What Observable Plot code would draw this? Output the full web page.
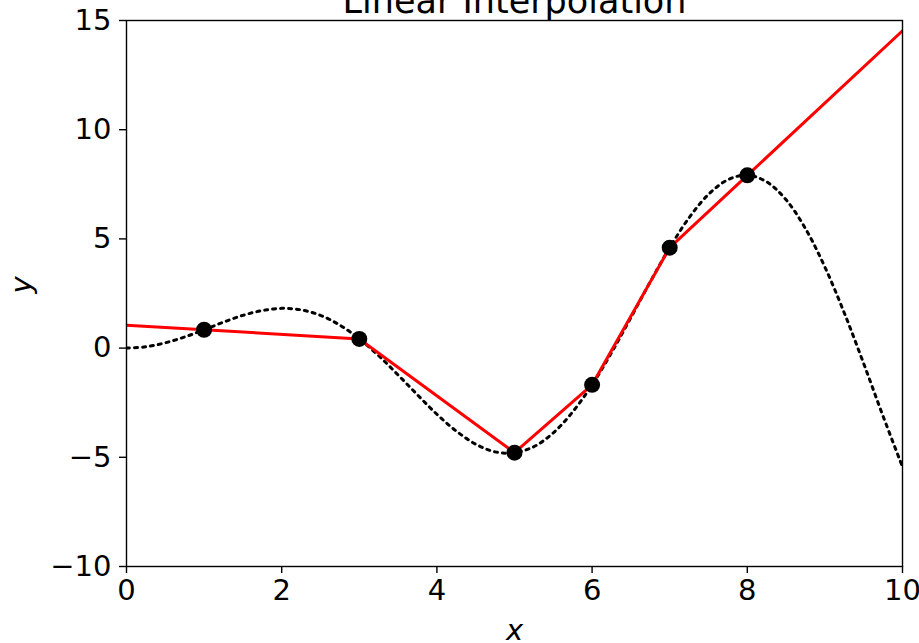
<!DOCTYPE html>
<html>
<head>
<meta charset="utf-8">
<script src="https://cdn.jsdelivr.net/npm/d3@7"></script>
<script src="https://cdn.jsdelivr.net/npm/@observablehq/plot@0.6"></script>
<style>
  body { margin: 0; background: #fff; }
  svg { font-family: "DejaVu Sans", sans-serif; }
</style>
</head>
<body>
<div id="chart"></div>
<script>
// Sample points (black dots)
const sampleX = [1, 3, 5, 6, 7, 8];
const sampleY = [0.84, 0.42, -4.79, -1.68, 4.60, 7.91];

// Linear interpolation (red), extended to the plot edges
const interpX = [0, 1, 3, 5, 6, 7, 8, 10];
const interpY = [1.05, 0.84, 0.42, -4.79, -1.68, 4.60, 7.91, 14.53];

// Underlying curve (dotted)
const curveX = [0, 0.25, 0.5, 0.75, 1, 1.25, 1.5, 1.75, 2, 2.25, 2.5, 2.75, 3, 3.25, 3.5, 3.75, 4, 4.25, 4.5, 4.75, 5,
  5.25, 5.5, 5.75, 6, 6.25, 6.5, 6.75, 7, 7.25, 7.5, 7.75, 8, 8.25, 8.5, 8.75, 9, 9.25, 9.5, 9.75, 10];
const curveY = [0, 0.06, 0.24, 0.51, 0.84, 1.19, 1.50, 1.72, 1.82, 1.75, 1.50, 1.05, 0.42, -0.35, -1.23, -2.14, -3.03,
  -3.80, -4.40, -4.75, -4.79, -4.51, -3.88, -2.92, -1.68, -0.21, 1.40, 3.04, 4.60, 5.97, 7.04, 7.71, 7.92, 7.61, 6.79,
  5.47, 3.71, 1.61, -0.71, -3.12, -5.44];

const xTicks = [0, 2, 4, 6, 8, 10];
const yTicks = [-10, -5, 0, 5, 10, 15];

const samples = sampleX.map((x, i) => ({x, y: sampleY[i]}));
const interp = interpX.map((x, i) => ({x, y: interpY[i]}));
const curve = curveX.map((x, i) => ({x, y: curveY[i]}));

const fs = 29;
const chart = Plot.plot({
  width: 919,
  height: 643,
  marginLeft: 126,
  marginRight: 17,
  marginTop: 20,
  marginBottom: 77,
  style: {fontFamily: "DejaVu Sans, sans-serif", background: "#fff", color: "#000"},
  x: {domain: [0, 10]},
  y: {domain: [-10, 15]},
  marks: [
    Plot.line(curve, {x: "x", y: "y", curve: "catmull-rom", stroke: "#000", strokeWidth: 3, strokeDasharray: "3,5", clip: true}),
    Plot.line(interp, {x: "x", y: "y", stroke: "#ff0000", strokeWidth: 3, clip: true}),
    Plot.dot(samples, {x: "x", y: "y", r: 8, fill: "#000", stroke: "none"}),
    Plot.frame({stroke: "#000", strokeWidth: 1.4}),
    Plot.axisX({ticks: xTicks, tickSize: 7, tickPadding: 6, strokeWidth: 1.4, fontSize: fs, label: null, tickFormat: d => d.toString()}),
    Plot.axisY({ticks: yTicks, tickSize: 7, tickPadding: 8, strokeWidth: 1.4, fontSize: fs, label: null, tickFormat: d => d < 0 ? "\u2212" + Math.abs(d) : d.toString()}),
    Plot.text(["Linear Interpolation"], {frameAnchor: "top", dy: -8, lineAnchor: "bottom", fontSize: 35, fill: "#000"}),
    Plot.text(["x"], {frameAnchor: "bottom", dy: 73, lineAnchor: "bottom", fontSize: fs, fontStyle: "italic", fill: "#000"}),
    Plot.text(["y"], {frameAnchor: "left", dx: -96, rotate: -90, lineAnchor: "bottom", fontSize: fs, fontStyle: "italic", fill: "#000"})
  ]
});
document.getElementById("chart").appendChild(chart);
</script>
</body>
</html>
